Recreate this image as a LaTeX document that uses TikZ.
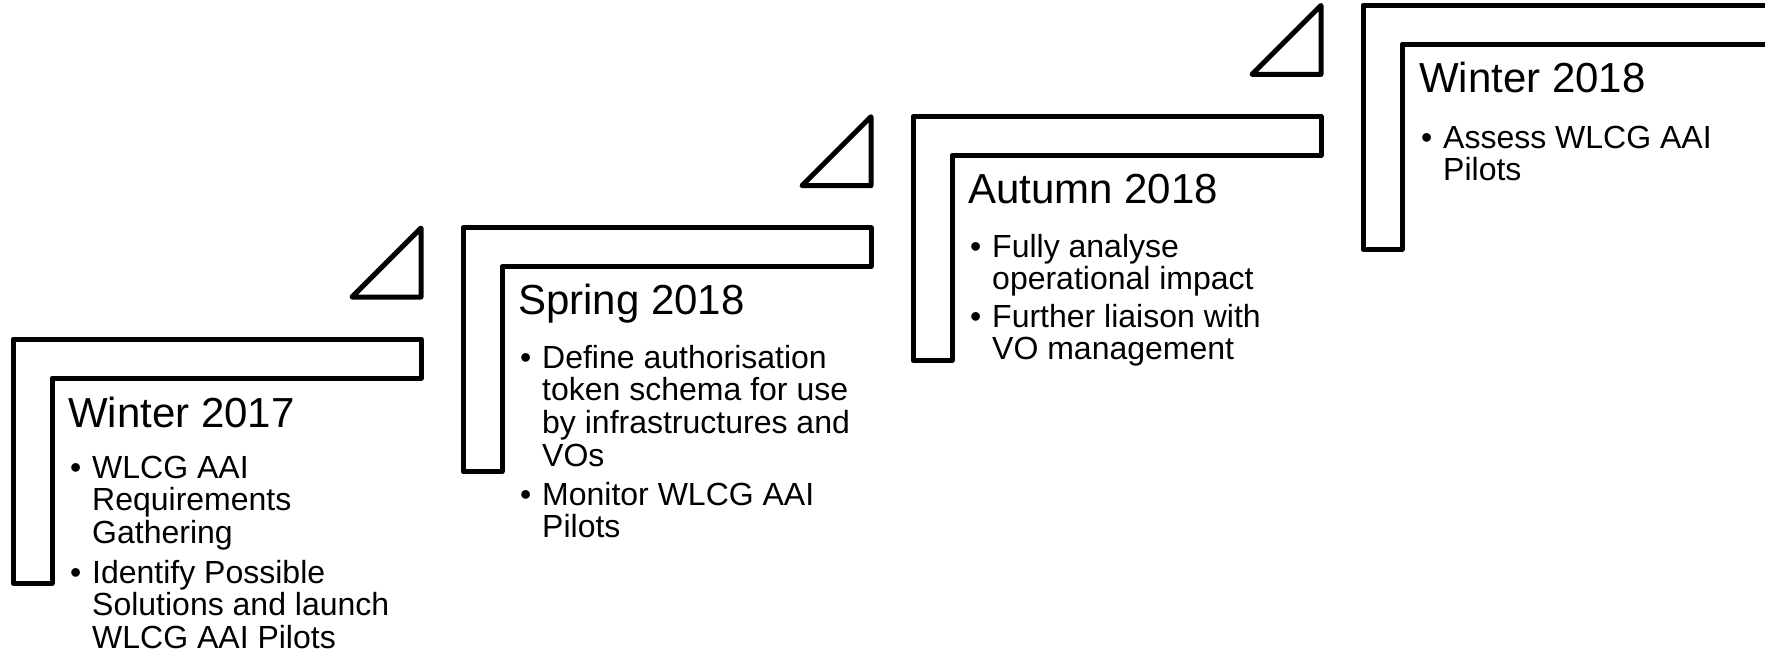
\documentclass[tikz,border=0pt]{standalone}
\usepackage{fontspec}
\setmainfont{Liberation Sans}
\usetikzlibrary{positioning}

\tikzset{
  stepline/.style={line width=5pt, line join=round},
  season/.style={anchor=base west, inner sep=0pt, font=\fontsize{42}{46}\selectfont},
  dot/.style={anchor=base west, inner sep=0pt, font=\fontsize{32}{32.5}\selectfont},
  itemtext/.style={anchor=base west, inner sep=0pt, font=\fontsize{32}{32.5}\selectfont},
}

\begin{document}
\begin{tikzpicture}[x=1pt, y=-1pt]
    \useasboundingbox (0,0) rectangle (1765,654);
    % the four steps
    \foreach \i in {0,...,3}
      \draw[stepline, shift={(450*\i,-111.3*\i)}]
        (13,339) -- (421,339) -- (421,378) -- (52,378) -- (52,583) -- (13,583) -- cycle;
    % small triangles above each step
    \foreach \i in {0,1,2}
      \draw[stepline, shift={(450*\i,-111.3*\i)}]
        (421,228) -- (421,297) -- (352,297) -- cycle;

    % Winter 2017
    \node[season] (w17) at (68,427) {Winter 2017};
    \node[dot] (w17d1) at (70,478) {\textbullet};
    \node[itemtext] (w17i1) at (92,478) {\begin{tabular}[t]{@{}l@{}}WLCG AAI\\Requirements\\Gathering\end{tabular}};
    \node[dot] (w17d2) at (70,583) {\textbullet};
    \node[itemtext] (w17i2) at (92,583) {\begin{tabular}[t]{@{}l@{}}Identify Possible\\Solutions and launch\\WLCG AAI Pilots\end{tabular}};

    % Spring 2018
    \node[season] (s18) at (518,314) {Spring 2018};
    \node[dot] (s18d1) at (520,368) {\textbullet};
    \node[itemtext] (s18i1) at (542,368) {\begin{tabular}[t]{@{}l@{}}Define authorisation\\token schema for use\\by infrastructures and\\VOs\end{tabular}};
    \node[dot] (s18d2) at (520,505) {\textbullet};
    \node[itemtext] (s18i2) at (542,505) {\begin{tabular}[t]{@{}l@{}}Monitor WLCG AAI\\Pilots\end{tabular}};

    % Autumn 2018
    \node[season] (a18) at (968,203) {Autumn 2018};
    \node[dot] (a18d1) at (970,257) {\textbullet};
    \node[itemtext] (a18i1) at (992,257) {\begin{tabular}[t]{@{}l@{}}Fully analyse\\operational impact\end{tabular}};
    \node[dot] (a18d2) at (970,327) {\textbullet};
    \node[itemtext] (a18i2) at (992,327) {\begin{tabular}[t]{@{}l@{}}Further liaison with\\VO management\end{tabular}};

    % Winter 2018
    \node[season] (w18) at (1419,92) {Winter 2018};
    \node[dot] (w18d1) at (1421,148) {\textbullet};
    \node[itemtext] (w18i1) at (1443,148) {\begin{tabular}[t]{@{}l@{}}Assess WLCG AAI\\Pilots\end{tabular}};
\end{tikzpicture}
\end{document}
